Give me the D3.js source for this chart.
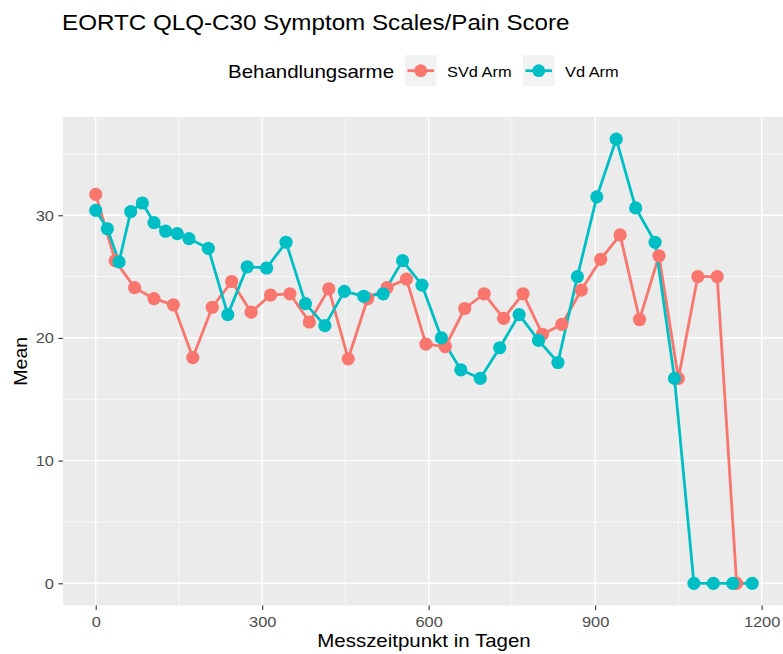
<!DOCTYPE html>
<html>
<head>
<meta charset="utf-8">
<script src="https://cdn.jsdelivr.net/npm/d3@7"></script>
<style>
  body { margin: 0; background: #fff; }
  svg { display: block; font-family: "Liberation Sans", Arial, sans-serif; }
</style>
</head>
<body>
<div id="chart"></div>
<script>
// Data
const seriesNames = ["SVd Arm", "Vd Arm"];
const seriesColors = ["#F8766D", "#00BFC4"];

const svdDays = [0, 35, 70, 105, 140, 175, 210, 245, 280, 315, 350, 385, 420, 455, 490, 525, 560,
                 595, 630, 665, 700, 735, 770, 805, 840, 875, 910, 945, 980, 1015, 1050, 1085, 1120, 1155];
const svdMeans = [31.7, 26.3, 24.1, 23.2, 22.7, 18.4, 22.5, 24.6, 22.1, 23.5, 23.6, 21.3, 24.0, 18.3, 23.2, 24.1, 24.8,
                  19.5, 19.3, 22.4, 23.6, 21.6, 23.6, 20.3, 21.1, 23.9, 26.4, 28.4, 21.5, 26.7, 16.7, 25.0, 25.0, 0];

const vdDays = [0, 21, 42, 63, 84, 105, 126, 147, 168, 203, 238, 273, 308, 343, 378, 413, 448, 483, 518,
                553, 588, 623, 658, 693, 728, 763, 798, 833, 868, 903, 938, 973, 1008, 1043, 1078, 1113, 1148, 1183];
const vdMeans = [30.4, 28.9, 26.2, 30.3, 31.0, 29.4, 28.7, 28.5, 28.1, 27.3, 21.9, 25.8, 25.7, 27.8, 22.8, 21.0, 23.8, 23.4, 23.6,
                 26.3, 24.3, 20.0, 17.4, 16.7, 19.2, 21.9, 19.8, 18.0, 25.0, 31.5, 36.2, 30.6, 27.8, 16.7, 0, 0, 0, 0];

const xTicks = [0, 300, 600, 900, 1200];
const xMinor = [150, 450, 750, 1050];
const yTicks = [0, 10, 20, 30];
const yMinor = [5, 15, 25, 35];

// Configuration
const W = 783, H = 654;
const panel = { left: 62.9, right: 785, top: 117, bottom: 605.5 };
const wide = 1.1;   // glyphs in the reference are a bit wider than Liberation Sans

const series = [
    { name: seriesNames[0], color: seriesColors[0], values: svdDays.map((d, i) => ({ x: d, y: svdMeans[i] })) },
    { name: seriesNames[1], color: seriesColors[1], values: vdDays.map((d, i) => ({ x: d, y: vdMeans[i] })) }
];

// ggplot style 5% expansion
const allX = svdDays.concat(vdDays);
const allY = svdMeans.concat(vdMeans);
const [x0, x1] = d3.extent(allX);
const [y0, y1] = d3.extent(allY);
const xPad = (x1 - x0) * 0.05, yPad = (y1 - y0) * 0.05;

const xScale = d3.scaleLinear()
    .domain([x0 - xPad, x1 + xPad])
    .range([panel.left, panel.right]);

const yScale = d3.scaleLinear()
    .domain([y0 - yPad, y1 + yPad])
    .range([panel.bottom, panel.top]);

const svg = d3.select("#chart")
    .append("svg")
    .attr("width", W)
    .attr("height", H);

// Place a text with its anchor at (x, y), stretched horizontally
function addText(parent, x, y, str, size, anchor) {
    return parent.append("text")
        .attr("transform", `translate(${x}, ${y}) scale(${wide}, 1)`)
        .attr("text-anchor", anchor || "start")
        .style("font-size", size + "px")
        .attr("fill", "#000")
        .text(str);
}

// Panel background
svg.append("rect")
    .attr("x", panel.left)
    .attr("y", panel.top)
    .attr("width", panel.right - panel.left)
    .attr("height", panel.bottom - panel.top)
    .attr("fill", "#EBEBEB");

// Grid lines
const grid = svg.append("g").attr("stroke", "#fff");
grid.selectAll(".ymin").data(yMinor).join("line")
    .attr("x1", panel.left).attr("x2", panel.right)
    .attr("y1", d => yScale(d)).attr("y2", d => yScale(d))
    .attr("stroke-width", 0.7);
grid.selectAll(".xmin").data(xMinor).join("line")
    .attr("y1", panel.top).attr("y2", panel.bottom)
    .attr("x1", d => xScale(d)).attr("x2", d => xScale(d))
    .attr("stroke-width", 0.7);
grid.selectAll(".ymaj").data(yTicks).join("line")
    .attr("x1", panel.left).attr("x2", panel.right)
    .attr("y1", d => yScale(d)).attr("y2", d => yScale(d))
    .attr("stroke-width", 1.4);
grid.selectAll(".xmaj").data(xTicks).join("line")
    .attr("y1", panel.top).attr("y2", panel.bottom)
    .attr("x1", d => xScale(d)).attr("x2", d => xScale(d))
    .attr("stroke-width", 1.4);

// Axes
const xAxis = svg.append("g")
    .attr("transform", `translate(0, ${panel.bottom})`)
    .call(d3.axisBottom(xScale).tickValues(xTicks).tickSize(4.5).tickFormat(d3.format("d")));
const yAxis = svg.append("g")
    .attr("transform", `translate(${panel.left}, 0)`)
    .call(d3.axisLeft(yScale).tickValues(yTicks).tickSize(4.5).tickFormat(d3.format("d")));

[xAxis, yAxis].forEach(a => {
    a.select(".domain").remove();
    a.selectAll(".tick line").attr("stroke", "#333333").attr("stroke-width", 1.1);
    a.selectAll(".tick text")
        .attr("fill", "#4D4D4D")
        .style("font-size", "14.9px")
        .style("font-family", "Liberation Sans, Arial, sans-serif");
});
xAxis.selectAll(".tick text")
    .attr("y", 0).attr("dy", null)
    .attr("transform", `translate(0, 21.5) scale(${wide}, 1)`);
yAxis.selectAll(".tick text")
    .attr("x", 0)
    .attr("transform", `translate(-9, 0) scale(${wide}, 1)`);

// Lines then points (layer order as in ggplot)
const line = d3.line().x(d => xScale(d.x)).y(d => yScale(d.y));

svg.append("g").selectAll("path")
    .data(series)
    .join("path")
    .attr("d", d => line(d.values))
    .attr("fill", "none")
    .attr("stroke", d => d.color)
    .attr("stroke-width", 2.8)
    .attr("stroke-linejoin", "round");

svg.append("g").selectAll("g")
    .data(series)
    .join("g")
    .attr("fill", d => d.color)
    .selectAll("circle")
    .data(d => d.values)
    .join("circle")
    .attr("cx", d => xScale(d.x))
    .attr("cy", d => yScale(d.y))
    .attr("r", 6.6);

// Title
addText(svg, 62, 30, "EORTC QLQ-C30 Symptom Scales/Pain Score", 22);

// Axis titles
addText(svg, (panel.left + panel.right) / 2, 647, "Messzeitpunkt in Tagen", 18.6, "middle");

svg.append("text")
    .attr("transform", `translate(26.5, ${(panel.top + panel.bottom) / 2}) rotate(-90) scale(1.05, 1)`)
    .attr("text-anchor", "middle")
    .style("font-size", "18.6px")
    .text("Mean");

// Legend
const legend = svg.append("g");
addText(legend, 228, 78, "Behandlungsarme", 18.6);

const keyX = [405, 523];
const labelX = [447, 565];
series.forEach((s, i) => {
    const k = legend.append("g").attr("transform", `translate(${keyX[i]}, 55)`);
    k.append("rect").attr("width", 31.5).attr("height", 31).attr("fill", "#F2F2F2");
    k.append("line").attr("x1", 2.5).attr("x2", 29).attr("y1", 15.7).attr("y2", 15.7)
        .attr("stroke", s.color).attr("stroke-width", 2.8);
    k.append("circle").attr("cx", 15.75).attr("cy", 15.7).attr("r", 6.4).attr("fill", s.color);
    addText(legend, labelX[i], 77.3, s.name, 14.9);
});
</script>
</body>
</html>
